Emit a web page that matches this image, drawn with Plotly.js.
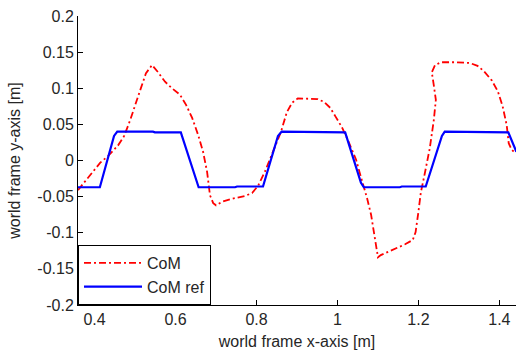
<!DOCTYPE html>
<html>
<head>
<meta charset="utf-8">
<script src="https://cdn.plot.ly/plotly-3.0.1.min.js"></script>
<style>html,body{margin:0;padding:0;background:#fff;}#chart{width:516px;height:354px;}</style>
</head>
<body>
<div id="chart"></div>
<script>
// CoM (measured) trajectory
const comX = [0.359,0.389,0.414,0.433,0.458,0.473,0.488,0.507,0.527,0.542,0.557,0.574,0.591,0.611,0.626,0.641,0.656,0.668,0.678,0.685,0.693,0.700,0.715,0.739,0.772,0.789,0.804,0.821,0.833,0.848,0.860,0.875,0.888,0.902,0.932,0.951,0.967,0.982,0.996,1.011,1.026,1.046,1.060,1.073,1.083,1.092,1.100,1.107,1.137,1.167,1.186,1.193,1.199,1.206,1.216,1.228,1.238,1.243,1.238,1.233,1.241,1.256,1.290,1.327,1.346,1.361,1.381,1.396,1.408,1.418,1.423,1.430,1.440];
const comY = [-0.041,-0.020,-0.003,0.006,0.021,0.034,0.056,0.088,0.121,0.132,0.122,0.109,0.100,0.091,0.077,0.059,0.035,0.012,-0.016,-0.048,-0.059,-0.062,-0.057,-0.053,-0.049,-0.045,-0.035,-0.015,0.002,0.021,0.039,0.067,0.080,0.086,0.086,0.085,0.081,0.073,0.060,0.046,0.028,0.001,-0.027,-0.052,-0.075,-0.110,-0.134,-0.131,-0.124,-0.116,-0.110,-0.099,-0.075,-0.044,-0.017,0.017,0.056,0.084,0.104,0.122,0.132,0.136,0.136,0.135,0.131,0.124,0.111,0.096,0.075,0.049,0.024,0.015,0.010];
// CoM reference trajectory
const refX = [0.359,0.413,0.448,0.456,0.544,0.549,0.613,0.657,0.747,0.752,0.816,0.853,0.862,0.944,0.949,1.019,1.058,1.065,1.154,1.159,1.218,1.258,1.265,1.352,1.357,1.422,1.442];
const refY = [-0.037,-0.037,0.034,0.040,0.040,0.039,0.039,-0.037,-0.037,-0.036,-0.036,0.034,0.040,0.040,0.039,0.039,-0.031,-0.037,-0.037,-0.036,-0.036,0.034,0.040,0.040,0.039,0.039,0.012];
const seriesNames = ["CoM", "CoM ref"];
const xTickVals = [0.4,0.6,0.8,1,1.2,1.4];
const xTickText = ["0.4","0.6","0.8","1","1.2","1.4"];
const yTickVals = [0.2,0.15,0.1,0.05,0,-0.05,-0.1,-0.15,-0.2];
const yTickText = ["0.2","0.15","0.1","0.05","0","-0.05","-0.1","-0.15","-0.2"];

const font = "Liberation Sans, Arial, sans-serif";
const txt = "#262626";
const data = [
  {x: comX, y: comY, type: "scatter", mode: "lines", name: seriesNames[0],
   line: {color: "#ff0000", width: 1.8, dash: "7px,3px,2px,3px"}},
  {x: refX, y: refY, type: "scatter", mode: "lines", name: seriesNames[1],
   line: {color: "#0000ff", width: 2.2}}
];
const layout = {
  width: 516, height: 354,
  margin: {l: 78, r: 0, t: 16, b: 49, pad: 0},
  paper_bgcolor: "#fff", plot_bgcolor: "#fff",
  font: {family: font, size: 16, color: txt},
  showlegend: true,
  legend: {x: 0, y: 0, xanchor: "left", yanchor: "bottom", bgcolor: "#fff",
           bordercolor: "#000", borderwidth: 1, font: {family: font, size: 16, color: txt},
           itemwidth: 58, tracegroupgap: 0},
  xaxis: {range: [0.359, 1.441], tickvals: xTickVals, ticktext: xTickText,
          ticks: "inside", ticklen: 5, tickcolor: "#000", showgrid: false, zeroline: false,
          showline: true, linecolor: "#000", linewidth: 1,
          tickfont: {family: font, size: 16, color: txt},
          title: {text: "world frame x-axis [m]", standoff: 8, font: {family: font, size: 16, color: txt}},
          automargin: false},
  yaxis: {range: [-0.2, 0.2], tickvals: yTickVals, ticktext: yTickText,
          ticks: "inside", ticklen: 5, tickcolor: "#000", showgrid: false, zeroline: false,
          showline: true, linecolor: "#000", linewidth: 1,
          tickfont: {family: font, size: 16, color: txt},
          title: {text: "world frame y-axis [m]", standoff: 12, font: {family: font, size: 16, color: txt}},
          automargin: false}
};
Plotly.newPlot("chart", data, layout, {staticPlot: true, displayModeBar: false});
</script>
</body>
</html>
